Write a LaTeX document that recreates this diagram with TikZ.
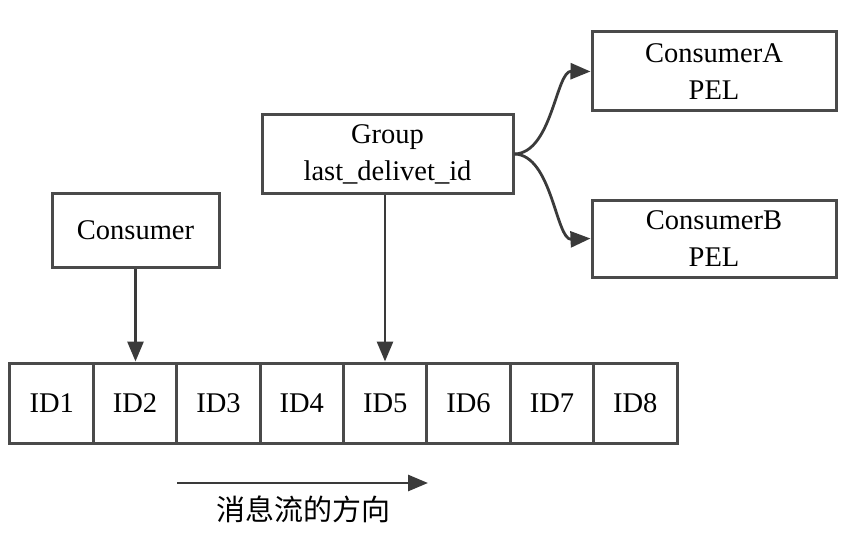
\documentclass[tikz,border=0pt]{standalone}
\usepackage{fontspec}
\setmainfont{Liberation Serif}
\newfontfamily\cjk{Noto Sans CJK SC}
\usetikzlibrary{arrows.meta}
\definecolor{linec}{HTML}{3a3a3a}
\definecolor{boxc}{HTML}{4a4a4a}
\begin{document}
\begin{tikzpicture}[x=1pt,y=-1pt,
  box/.style={draw=boxc,line width=3pt,inner sep=0pt,align=center,font=\fontsize{28.5}{37}\selectfont},
  arr/.style={draw=linec,line width=2.8pt,-{Triangle[length=20pt,width=16pt]}}]
\useasboundingbox (0,0) rectangle (866,540);
\node[box,minimum width=167pt,minimum height=74pt] (cons) at (135.5,230) {Consumer};
\node[box,minimum width=251pt,minimum height=78pt] (grp) at (387.5,154) {Group\\last\_delivet\_id};
\node[box,minimum width=244pt,minimum height=79pt] (ca) at (714,71.5) {ConsumerA\\PEL};
\node[box,minimum width=244pt,minimum height=77pt] (cb) at (714,238.5) {ConsumerB\\PEL};
\foreach \i in {1,...,8}{
  \node[box,minimum width=83.4pt,minimum height=80pt] (id\i) at ({10+83.375*(\i-0.5)},403) {ID\i};
}
\draw[arr] (cons.south) -- (cons.south |- id2.north);
\draw[arr] (grp.south -| 385,0) coordinate (gs) -- (gs |- id5.north);
\draw[arr] (grp.east) .. controls (552,153) and (556,71) .. (ca.west);
\draw[arr] (grp.east) .. controls (552,155) and (556,240) .. (cb.west);
\coordinate (fa) at (177,483);
\coordinate (fb) at (428,483);
\draw[arr] (fa) -- (fb);
\node[font=\cjk\fontsize{29}{34}\selectfont] (flow) at (303,509) {消息流的方向};
\end{tikzpicture}
\end{document}
